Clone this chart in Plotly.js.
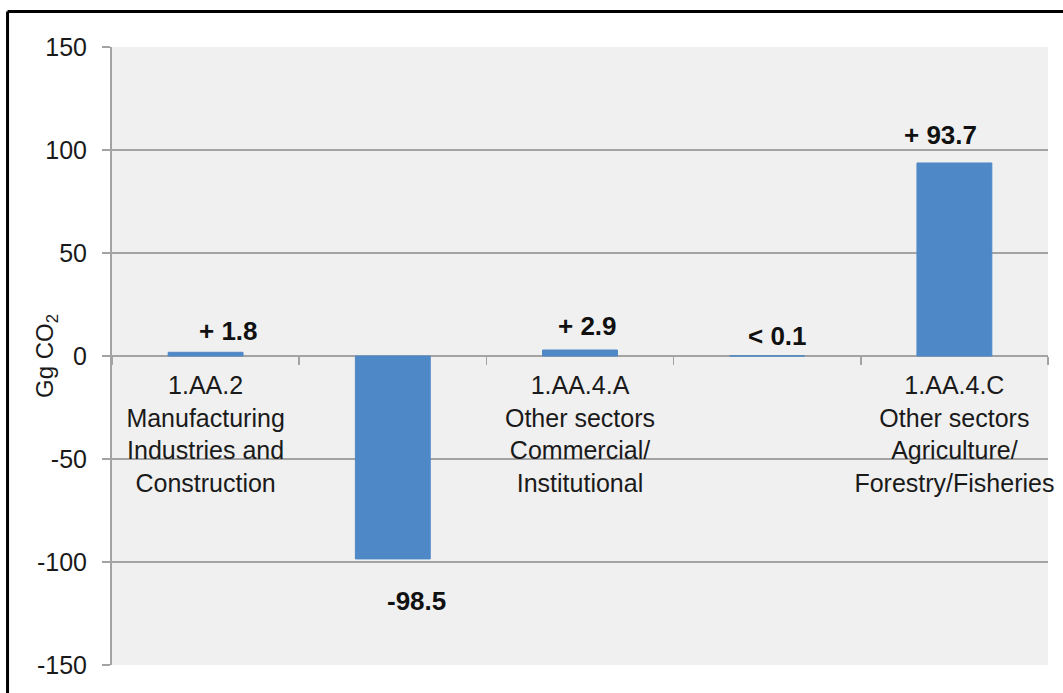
<!DOCTYPE html>
<html>
<head>
<meta charset="utf-8">
<script src="https://cdn.plot.ly/plotly-3.0.1.min.js"></script>
<style>
  html, body { margin: 0; padding: 0; background: #ffffff; }
  #chart { width: 1063px; height: 693px; }
</style>
</head>
<body>
<div id="chart"></div>
<script>
// Change in CO2 emissions by sub-sector (Gg CO2)
const sectorPositions = [1, 2, 3, 4, 5];
const sectorLabels = [
  '1.AA.2<br>Manufacturing<br>Industries and<br>Construction',
  '',
  '1.AA.4.A<br>Other sectors<br>Commercial/<br>Institutional',
  '',
  '1.AA.4.C<br>Other sectors<br>Agriculture/<br>Forestry/Fisheries'
];
const changeValues = [1.8, -98.5, 2.9, 0.1, 93.7];
const valueLabels = ['+ 1.8', '-98.5', '+ 2.9', '< 0.1', '+ 93.7'];
const yTickValues = [-150, -100, -50, 0, 50, 100, 150];
const yTickLabels = ['-150', '-100', '-50', '0', '50', '100', '150'];

// pixel offsets for the value labels
const labelShiftX = [23, 24, 7, 10, -14];
const labelShiftY = [21, -42, 24, 20, 28];

const gridGray = '#a3a3a3';
const barBlue = '#4f88c6';
const font = 'Liberation Sans, Arial, sans-serif';

const trace = {
  type: 'bar',
  x: sectorPositions,
  y: changeValues,
  width: 0.4,
  marker: { color: barBlue, line: { color: barBlue, width: 1 } },
  hoverinfo: 'x+y'
};

const annotations = changeValues.map((v, i) => ({
  x: sectorPositions[i],
  y: v,
  xref: 'x',
  yref: 'y',
  text: '<b>' + valueLabels[i] + '</b>',
  showarrow: false,
  xanchor: 'center',
  yanchor: 'middle',
  xshift: labelShiftX[i],
  yshift: labelShiftY[i],
  font: { family: font, size: 26, color: '#111111' }
}));

// only the sectors that carry a label get a category tick label
const labelledIdx = sectorLabels.map((t, i) => i).filter(i => sectorLabels[i] !== '');
const boundaryTicks = [];
for (let k = 0; k <= sectorPositions.length; k++) boundaryTicks.push(k + 0.5);

const layout = {
  width: 1063,
  height: 693,
  margin: { l: 112, r: 15, t: 47, b: 28 },
  paper_bgcolor: '#ffffff',
  plot_bgcolor: '#f0f0f0',
  showlegend: false,
  bargap: 0.6,
  font: { family: font, color: '#1a1a1a' },
  xaxis: {
    type: 'linear',
    range: [0.5, 5.5],
    anchor: 'free',
    position: 0.5,
    showgrid: false,
    zeroline: false,
    showline: false,
    tickmode: 'array',
    tickvals: labelledIdx.map(i => sectorPositions[i]),
    ticktext: labelledIdx.map(i => sectorLabels[i]),
    ticks: '',
    ticklabelstandoff: 12,
    tickfont: { family: font, size: 25, color: '#1a1a1a' },
    minor: {
      tickmode: 'array',
      tickvals: boundaryTicks,
      ticks: 'outside',
      ticklen: 8,
      tickwidth: 1.5,
      tickcolor: gridGray,
      showgrid: false
    },
    fixedrange: true
  },
  yaxis: {
    range: [-150, 150],
    tickmode: 'array',
    tickvals: yTickValues,
    ticktext: yTickLabels,
    ticks: 'outside',
    ticklen: 8,
    tickwidth: 1.5,
    tickcolor: gridGray,
    ticklabelstandoff: 10,
    tickfont: { family: font, size: 25, color: '#1a1a1a' },
    showgrid: true,
    gridcolor: gridGray,
    gridwidth: 1.5,
    zeroline: true,
    zerolinecolor: gridGray,
    zerolinewidth: 1.5,
    showline: true,
    linecolor: gridGray,
    linewidth: 2,
    title: {
      text: 'Gg CO<sub>2</sub>',
      font: { family: font, size: 24, color: '#1a1a1a' }
    },
    fixedrange: true
  },
  annotations: annotations,
  shapes: [
    // frame around the figure
    { type: 'line', xref: 'paper', yref: 'paper',
      x0: -0.1116, x1: 1.1, y0: 1.0575, y1: 1.0575,
      line: { color: '#000000', width: 3 } },
    { type: 'line', xref: 'paper', yref: 'paper',
      x0: -0.1116, x1: -0.1116, y0: 1.0575, y1: -0.2,
      line: { color: '#000000', width: 3 } }
  ]
};

Plotly.newPlot('chart', [trace], layout, { displayModeBar: false, staticPlot: true });
</script>
</body>
</html>
